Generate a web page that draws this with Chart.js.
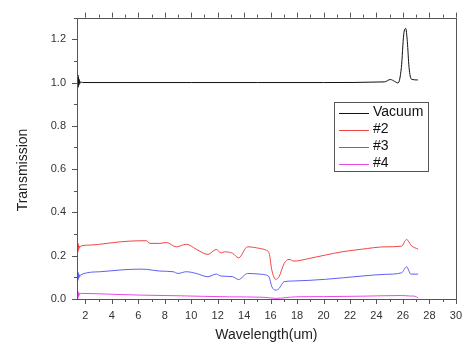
<!DOCTYPE html>
<html>
<head>
<meta charset="utf-8">
<script src="https://cdn.jsdelivr.net/npm/chart.js@4"></script>
<style>
  html, body { margin: 0; padding: 0; background: #fff; }
</style>
</head>
<body>
<canvas id="grafico" width="472" height="351"></canvas>
<script>
// dados
const vacuoX = [1.38, 1.40, 1.42, 1.44, 1.46, 1.48, 1.51, 1.54, 1.58, 1.63, 1.8, 5, 10, 15, 20, 24.6, 25.05, 25.35, 25.63, 25.88, 26.06, 26.21, 26.33, 26.46, 26.63, 27.13]
const vacuoY = [1.0, 1.04, 0.975, 1.035, 0.98, 1.025, 0.988, 1.014, 0.995, 1.003, 1.0, 1.0, 1.0, 1.0, 1.0, 1.003, 1.014, 1.006, 0.998, 1.069, 1.223, 1.25, 1.19, 1.07, 1.016, 1.012]

const am2X = [1.38, 1.40, 1.42, 1.44, 1.46, 1.48, 1.51, 1.54, 1.58, 1.63, 2.38, 3.63, 4.63, 6.13, 6.63, 6.88, 7.63, 8.13, 8.88, 9.63, 10.38, 11.26, 11.89, 12.26, 12.51, 13.13, 13.58, 14.26, 15.14, 15.64, 15.89, 16.09, 16.39, 16.64, 17.02, 17.39, 17.77, 18.89, 20.15, 21.39, 22.89, 24.65, 25.9, 26.27, 26.65, 27.15]
const am2Y = [0.235, 0.262, 0.215, 0.258, 0.222, 0.25, 0.232, 0.245, 0.238, 0.244, 0.249, 0.257, 0.264, 0.269, 0.269, 0.257, 0.257, 0.261, 0.241, 0.253, 0.230, 0.206, 0.229, 0.213, 0.218, 0.211, 0.190, 0.241, 0.234, 0.226, 0.211, 0.134, 0.091, 0.103, 0.164, 0.183, 0.175, 0.187, 0.203, 0.218, 0.230, 0.241, 0.244, 0.275, 0.246, 0.230]

const am3X = [1.38, 1.40, 1.42, 1.44, 1.46, 1.48, 1.51, 1.54, 1.58, 1.63, 3.13, 4.63, 6.13, 6.63, 7.63, 8.63, 9.01, 9.63, 10.38, 11.26, 11.89, 12.26, 13.13, 13.58, 14.26, 15.14, 15.64, 15.89, 16.09, 16.39, 16.64, 17.02, 17.64, 20.15, 22.89, 24.65, 25.9, 26.27, 26.6, 27.15]
const am3Y = [0.10, 0.127, 0.085, 0.124, 0.09, 0.117, 0.097, 0.112, 0.104, 0.111, 0.126, 0.134, 0.138, 0.137, 0.129, 0.126, 0.118, 0.126, 0.118, 0.103, 0.115, 0.106, 0.103, 0.090, 0.118, 0.115, 0.111, 0.101, 0.057, 0.041, 0.049, 0.080, 0.083, 0.091, 0.106, 0.114, 0.121, 0.149, 0.115, 0.115]

const am4X = [1.38, 1.40, 1.42, 1.44, 1.46, 1.48, 1.51, 1.54, 1.58, 1.63, 4, 6.13, 9, 12.89, 15.5, 16.39, 17.9, 20, 22.89, 25.9, 26.5, 26.9, 27.15]
const am4Y = [0.02, 0.038, 0.002, 0.034, 0.008, 0.03, 0.015, 0.027, 0.021, 0.026, 0.022, 0.018, 0.015, 0.010, 0.008, 0.003, 0.010, 0.011, 0.013, 0.016, 0.014, 0.013, 0.005]

const nomes = ['Vacuum', '#2', '#3', '#4']
const cores = ['#111111', 'rgb(238,70,70)', 'rgb(95,95,245)', 'rgb(235,70,235)']

const tituloX = 'Wavelength(um)'
const tituloY = 'Transmission'

const fonte = "'Liberation Sans', Arial, sans-serif"
const corTexto = '#333'
const corEixo = '#555'

function pontos(xs, ys){
    return xs.map((v, i) => ({x: v, y: ys[i]}))
}

// moldura, marcas menores, legenda e titulo do eixo y
const moldura = {
    id: 'moldura',
    afterDraw(chart){
        const {ctx, chartArea: a, scales: {x, y}} = chart
        ctx.save()
        ctx.strokeStyle = corEixo
        ctx.lineWidth = 1
        ctx.strokeRect(Math.round(a.left) + 0.5, Math.round(a.top) + 0.5, Math.round(a.right - a.left), Math.round(a.bottom - a.top))

        ctx.beginPath()
        for(let v = 2; v <= 30; v++){
            const px = Math.round(x.getPixelForValue(v)) + 0.5
            const len = v % 2 === 0 ? 5 : 3
            ctx.moveTo(px, a.bottom); ctx.lineTo(px, a.bottom + len)
            ctx.moveTo(px, a.top); ctx.lineTo(px, a.top - len)
        }
        for(let i = 0; i <= 13; i++){
            const py = Math.round(y.getPixelForValue(i / 10)) + 0.5
            const len = i % 2 === 0 ? 5 : 3
            ctx.moveTo(a.left - len, py); ctx.lineTo(a.left, py)
        }
        ctx.stroke()

        // legenda
        const lx = 334, ly = 102, lw = 94, lh = 69
        ctx.strokeStyle = corEixo
        ctx.strokeRect(lx + 0.5, ly + 0.5, lw, lh)
        ctx.font = '14px ' + fonte
        ctx.textBaseline = 'middle'
        ctx.textAlign = 'left'
        chart.data.datasets.forEach((ds, i) => {
            const yy = ly + 10.5 + i * 17
            ctx.strokeStyle = ds.borderColor
            ctx.beginPath()
            ctx.moveTo(339, Math.round(yy) + 0.5)
            ctx.lineTo(369, Math.round(yy) + 0.5)
            ctx.stroke()
            ctx.fillStyle = '#111'
            ctx.fillText(ds.label, 373, yy)
        })

        // titulo do eixo y
        ctx.translate(23, 170)
        ctx.rotate(-Math.PI / 2)
        ctx.textAlign = 'center'
        ctx.fillStyle = '#222'
        ctx.font = '14px ' + fonte
        ctx.fillText(tituloY, 0, 0)
        ctx.restore()
    }
}

const ctx = document.getElementById('grafico').getContext('2d')

const grafico = new Chart(ctx, {
    type: 'line',
    data: {
        datasets: [
            {label: nomes[0], data: pontos(vacuoX, vacuoY), borderColor: cores[0]},
            {label: nomes[1], data: pontos(am2X, am2Y), borderColor: cores[1]},
            {label: nomes[2], data: pontos(am3X, am3Y), borderColor: cores[2]},
            {label: nomes[3], data: pontos(am4X, am4Y), borderColor: cores[3]}
        ]
    },
    options: {
        responsive: false,
        animation: false,
        layout: {padding: {top: 17, right: 14, left: 0, bottom: 0}},
        elements: {
            point: {radius: 0},
            line: {borderWidth: 1, cubicInterpolationMode: 'monotone', fill: false}
        },
        plugins: {
            legend: {display: false},
            tooltip: {enabled: false}
        },
        scales: {
            x: {
                type: 'linear',
                min: 1.37,
                max: 30,
                grid: {display: false, drawTicks: false},
                border: {display: false},
                ticks: {
                    stepSize: 2,
                    includeBounds: false,
                    maxRotation: 0,
                    autoSkip: false,
                    padding: 10,
                    color: corTexto,
                    font: {family: fonte, size: 11}
                },
                title: {
                    display: true,
                    text: tituloX,
                    color: '#222',
                    padding: {top: 0, bottom: 7},
                    font: {family: fonte, size: 14}
                },
                afterFit(scale){ scale.height = 52 }
            },
            y: {
                min: 0,
                max: 1.3,
                grid: {display: false, drawTicks: false},
                border: {display: false},
                ticks: {
                    stepSize: 0.2,
                    includeBounds: false,
                    padding: 11,
                    color: corTexto,
                    font: {family: fonte, size: 11},
                    callback: v => v.toFixed(1)
                },
                afterFit(scale){ scale.width = 77 }
            }
        }
    },
    plugins: [moldura]
})
</script>
</body>
</html>
